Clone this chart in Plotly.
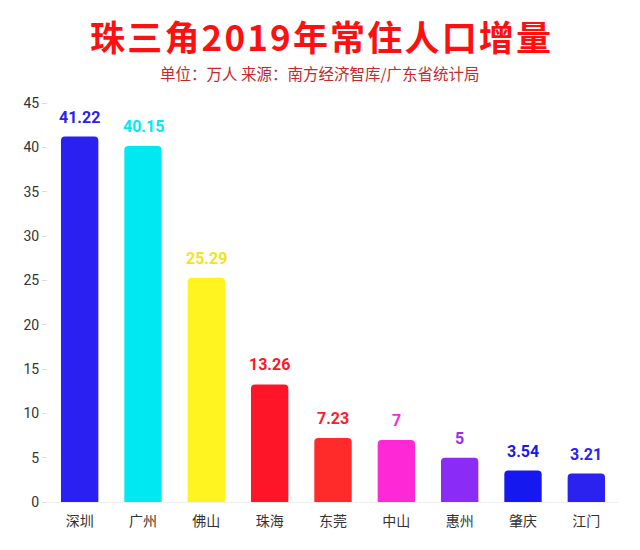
import plotly.graph_objects as go

cities = ["深圳", "广州", "佛山", "珠海", "东莞", "中山", "惠州", "肇庆", "江门"]
values = [41.22, 40.15, 25.29, 13.26, 7.23, 7, 5, 3.54, 3.21]
labels = ["41.22", "40.15", "25.29", "13.26", "7.23", "7", "5", "3.54", "3.21"]
colors = ["#2a20f2", "#00e9f2", "#fff41f", "#ff1528", "#ff2a2a", "#ff28d6", "#8a2cf5", "#1519f0", "#2b22f0"]
label_colors = ["#2a20f2", "#00e9f2", "#f5e21a", "#ff1528", "#ff1a2e", "#ff28d6", "#9a2cf5", "#1519f0", "#2b22f0"]
yticks = [0, 5, 10, 15, 20, 25, 30, 35, 40, 45]
title = "珠三角2019年常住人口增量"
subtitle = "单位：万人 来源：南方经济智库/广东省统计局"

font = "Noto Sans CJK SC"
L, R, T, B = 40, 30, 95, 56
W, H = 640, 550
title_x = (312 - L) / (W - L - R)

fig = go.Figure(go.Bar(
    x=cities, y=values, marker=dict(color=colors, cornerradius=4, line=dict(width=0)),
    width=0.59, hoverinfo="x+y"
))

for c, v, t, col in zip(cities, values, labels, label_colors):
    fig.add_annotation(x=c, y=v, text="<b>%s</b>" % t, showarrow=False,
                       yanchor="bottom", yshift=8,
                       font=dict(family="Roboto, " + font, size=16, color=col))

fig.add_annotation(xref="paper", yref="paper", x=title_x, y=1, xanchor="center", yanchor="top",
                   yshift=T - 1, showarrow=False, text="<b>%s</b>" % "\u200a".join(title),
                   borderpad=0,
                   font=dict(family=font, size=35, color="#ff1010"))
fig.add_annotation(xref="paper", yref="paper", x=title_x, y=1, xanchor="center", yanchor="middle",
                   yshift=T - 65, showarrow=False, text=subtitle,
                   borderpad=0,
                   font=dict(family=font, size=15.5, color="#c4282c"))

fig.update_layout(
    width=W, height=H, margin=dict(l=L, r=R, t=T, b=B),
    paper_bgcolor="white", plot_bgcolor="white", showlegend=False,
    font=dict(family=font, size=14, color="#333333"),
)
fig.update_xaxes(showline=True, linecolor="#eeeeee", linewidth=1, ticks="",
                 ticklabelstandoff=6,
                 tickfont=dict(family=font, size=14, color="#333333"))
fig.update_yaxes(range=[0, 45], tickvals=yticks, showgrid=False, zeroline=False,
                 ticks="outside", ticklen=5, tickcolor="#dddddd", showline=False,
                 tickfont=dict(family="Roboto, " + font, size=14, color="#333333"))

fig.write_html("out.html")
